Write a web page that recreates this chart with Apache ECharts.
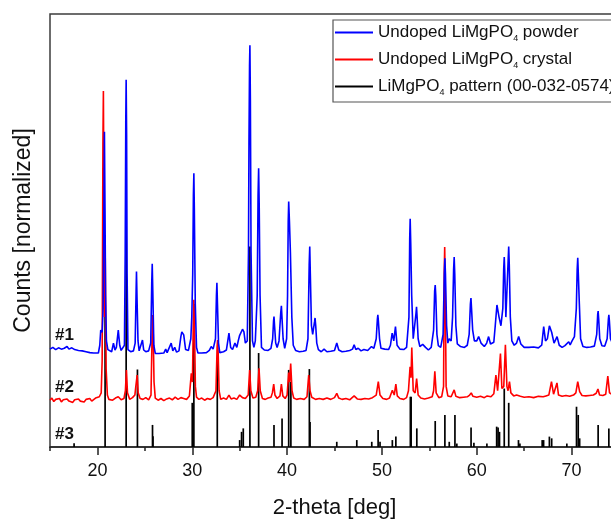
<!DOCTYPE html>
<html>
<head>
<meta charset="utf-8">
<script src="https://cdn.jsdelivr.net/npm/echarts@6/dist/echarts.min.js"></script>
<style>
  html, body { margin: 0; padding: 0; background: #fff; }
  #chart { width: 611px; height: 520px; }
</style>
</head>
<body>
<div id="chart"></div>
<script>
// Series names (PO4 is typeset with a subscript 4 in the legend)
const seriesNames = [
  'Undoped LiMgPO4 powder',
  'Undoped LiMgPO4 crystal',
  'LiMgPO4 pattern (00-032-0574)'
];

// Trace labels drawn at the left of each pattern
const traceLabels = ['#1', '#2', '#3'];

// #1 powder diffractogram: [2-theta, normalized counts incl. vertical offset]
const powder = [
  [15.0,22.6],[15.3,23.0],[15.6,22.5],[15.9,22.9],[16.2,22.6],[16.5,22.8],[16.8,23.2],[17.0,22.6],
  [17.3,22.9],[17.6,22.5],[18.0,22.3],[18.4,22.2],[18.8,22.0],[19.2,21.8],[19.6,21.7],[20.1,21.7],
  [20.25,23.5],[20.35,27.0],[20.5,26.5],[20.6,32],[20.7,60],[20.74,72.8],[20.8,55],[20.86,35],[20.95,24.5],[21.1,22.5],
  [21.3,22.8],[21.5,22.0],[21.69,24.0],[21.85,22.4],[22.0,23.0],[22.2,27.0],[22.35,23.5],[22.5,22.3],
  [22.7,22.5],[22.85,23.5],[22.93,45],[22.99,75],[23.03,84.8],[23.08,72],[23.13,40],[23.22,22.5],[23.5,22.0],[23.8,22.2],
  [23.98,24],[24.08,36],[24.12,40.5],[24.18,34],[24.28,24.5],[24.4,22.2],[24.6,22.5],[24.75,24.7],[24.88,22.4],[25.1,22.0],
  [25.4,22.2],[25.62,24],[25.73,38],[25.78,42.3],[25.84,36],[25.95,23.5],[26.1,21.6],[26.5,21.6],[27.0,21.7],[27.2,22.6],
  [27.35,21.8],[27.55,22.0],[27.78,24.0],[27.95,22.2],[28.15,23.0],[28.35,21.9],[28.6,22.2],[28.8,25.5],
  [28.9,26.6],[29.1,25.9],[29.3,22.5],[29.6,22.3],[29.85,25],[29.95,30],[30.05,40],[30.12,58],[30.17,63.2],[30.22,55],
  [30.32,33],[30.45,23],[30.6,21.7],[31.0,21.7],[31.5,21.8],[31.8,22.3],[32.0,23.2],[32.2,22.6],
  [32.45,25],[32.55,35],[32.6,37.9],[32.66,33],[32.77,24],[32.9,21.8],[33.3,22.0],[33.6,22.4],[33.87,26.3],[34.05,23],
  [34.25,22.5],[34.5,24],[34.7,23.0],[34.85,24.5],[35.0,25.8],[35.15,26.0],[35.3,27.2],[35.45,26.6],
  [35.6,24],[35.8,24.5],[35.93,45],[35.98,70],[36.04,88],[36.08,92.8],[36.13,80],[36.2,45],[36.35,24.5],[36.5,23.0],[36.65,24.5],
  [36.85,35],[36.94,58],[37.0,64.4],[37.06,56],[37.15,35],[37.3,23.0],[37.6,22.4],[38.0,22.3],[38.3,22.8],[38.48,25],
  [38.57,29],[38.62,30.1],[38.68,28],[38.8,24],[38.95,23],[39.15,24.5],[39.33,31],[39.4,32.6],[39.46,30],[39.58,25],[39.75,22.8],[39.95,25],
  [40.05,35],[40.12,52],[40.17,56.7],[40.25,52],[40.35,45],[40.5,30],[40.65,23.5],[40.9,22.3],[41.3,22.0],[41.7,22.1],
  [42.0,22.3],[42.2,25],[42.33,42],[42.39,46.3],[42.45,40],[42.57,28],[42.7,26],[42.9,29],[42.95,29.8],[43.02,28],[43.13,24],[43.3,22.5],
  [43.6,22.0],[43.9,22.6],[44.2,22.0],[44.6,22.1],[45.0,22.3],[45.24,24.0],[45.45,22.4],[45.8,22.0],
  [46.2,22.1],[46.6,22.3],[46.9,22.6],[47.07,23.6],[47.25,22.5],[47.5,22.8],[47.8,22.2],[48.1,22.5],
  [48.5,22.3],[48.9,23.2],[49.15,22.8],[49.4,25],[49.52,29.5],[49.57,30.5],[49.63,29],[49.75,25],[49.9,22.8],[50.3,22.6],
  [50.7,22.5],[50.9,23.5],[51.08,26.3],[51.25,24.5],[51.43,27.8],[51.6,23.5],[51.9,22.6],[52.3,22.5],
  [52.6,23.0],[52.85,30],[52.93,48],[52.98,52.7],[53.04,47],[53.14,35],[53.3,25],[53.5,25],[53.6,31],[53.65,32.4],[53.71,30],[53.82,25],
  [54.0,23.2],[54.3,23.7],[54.6,23.0],[54.9,22.4],[55.2,23.0],[55.45,27],[55.56,36],[55.62,37.4],[55.68,35],[55.8,26],
  [55.95,23.4],[56.2,23.0],[56.45,26],[56.58,40],[56.64,43.6],[56.7,40],[56.82,28],[56.95,24],[57.1,25.0],[57.3,24.5],
  [57.45,30],[57.56,41],[57.62,43.9],[57.68,40],[57.8,28],[57.95,23.8],[58.3,23.2],[58.7,23.0],[59.0,23.5],[59.2,26],
  [59.33,33],[59.39,34.4],[59.45,32],[59.57,27],[59.75,24.5],[60.0,24.5],[60.2,25.5],[60.45,24],[60.8,23.2],[61.05,24.0],
  [61.25,25.5],[61.45,23.8],[61.8,24.2],[61.95,28],[62.13,32.8],[62.35,30],[62.55,28],[62.75,32],
  [62.84,41],[62.9,43.9],[62.96,40],[63.07,30],[63.2,30],[63.31,43],[63.37,46.3],[63.43,42],[63.54,30],[63.7,24.5],[63.95,23.5],[64.2,24],
  [64.42,25.5],[64.65,23.8],[65.0,23.0],[65.5,23.0],[66.0,23.1],[66.5,22.9],[66.85,23.5],[67.06,27.8],
  [67.25,24.5],[67.45,25],[67.66,28.0],[67.9,26.5],[68.15,24],[68.47,25.5],[68.7,23.5],[69.0,23.0],
  [69.3,23.4],[69.7,24.3],[69.85,23.6],[70.05,24.5],[70.3,25.5],[70.5,32],[70.59,41],[70.65,43.7],[70.71,40],[70.82,33],
  [70.95,25],[71.2,23.2],[71.6,23.0],[72.0,23.1],[72.4,23.3],[72.65,26],[72.75,30.5],[72.8,31.4],[72.86,29.5],[72.97,25],
  [73.2,23.4],[73.5,23.3],[73.75,25],[73.88,29.5],[73.93,30.5],[73.99,29],[74.1,25],[74.4,23.5],[75.0,23.5]
];

// #2 crystal diffractogram
const crystal = [
  [15.0,10.8],[15.2,11.3],[15.4,10.5],[15.6,11.0],[15.8,10.6],[16.0,11.2],[16.2,10.4],[16.4,10.9],
  [16.6,10.5],[16.8,11.1],[17.0,10.6],[17.2,11.0],[17.4,10.3],[17.6,10.9],[17.8,10.5],[18.0,11.1],
  [18.2,10.6],[18.4,10.9],[18.6,10.4],[18.8,11.0],[19.0,10.7],[19.2,11.2],[19.4,10.6],[19.6,10.9],
  [19.8,11.3],[20.0,11.0],[20.2,11.6],[20.4,12.5],[20.5,20],[20.58,70],[20.63,82.2],[20.68,60],[20.74,30],[20.82,45],
  [20.92,18],[21.05,12],[21.2,11.0],[21.4,11.4],[21.6,10.8],[21.9,11.3],[22.2,11.6],[22.5,10.9],
  [22.8,11.2],[22.95,13],[23.06,17.8],[23.17,12.5],[23.4,11.0],[23.7,11.4],[23.95,12],[24.05,14],
  [24.19,16.6],[24.3,12.5],[24.5,11.2],[24.8,11.0],[25.1,11.4],[25.4,10.9],[25.65,12],[25.75,24],
  [25.82,30.5],[25.88,27],[25.97,15],[26.1,11.3],[26.4,10.8],[26.7,11.2],[27.0,10.7],[27.3,11.1],[27.6,11.3],
  [27.9,10.9],[28.2,11.5],[28.5,11.0],[28.8,11.4],[29.1,11.2],[29.4,11.0],[29.7,11.8],[29.9,17],
  [30.02,15],[30.12,30],[30.17,34],[30.23,29],[30.33,14],[30.45,11.5],[30.7,11.0],[31.0,11.3],[31.3,10.8],[31.6,11.2],
  [31.9,11.0],[32.2,11.4],[32.5,13],[32.62,23],[32.67,24.7],[32.73,22],[32.83,13],[33.0,11.0],[33.3,11.3],[33.6,11.0],
  [33.87,12.0],[34.1,11.1],[34.4,11.3],[34.7,11.0],[35.0,12.0],[35.3,11.4],[35.6,11.2],[35.9,12],
  [36.05,17.8],[36.18,13],[36.4,11.3],[36.7,11.5],[36.9,13],[37.04,18.2],[37.17,13],[37.4,11.2],
  [37.7,11.0],[38.0,11.3],[38.3,11.5],[38.45,12.5],[38.59,14.5],[38.72,12],[38.95,11.2],[39.25,11.8],
  [39.4,14.5],[39.55,11.8],[39.8,11.2],[40.0,12],[40.17,17.2],[40.28,15],[40.38,19.3],[40.52,13],
  [40.7,11.3],[41.0,11.0],[41.4,11.2],[41.8,11.0],[42.1,11.6],[42.28,16.6],[42.42,13],[42.6,11.5],
  [43.0,11.0],[43.4,11.2],[43.8,11.0],[44.2,11.3],[44.6,11.0],[45.0,11.4],[45.24,12.4],[45.45,11.3],
  [45.8,11.0],[46.2,11.2],[46.6,10.9],[47.07,11.8],[47.4,11.1],[47.8,11.0],[48.2,11.2],[48.6,11.1],
  [49.0,11.4],[49.4,12],[49.62,15.1],[49.8,12],[50.1,11.2],[50.5,11.0],[50.8,11.3],[51.1,13.1],
  [51.3,12],[51.47,14.5],[51.62,11.8],[51.9,11.2],[52.3,11.0],[52.6,11.4],[52.8,13],[52.97,18.5],
  [53.07,16],[53.15,23],[53.3,13],[53.5,12.5],[53.66,15.8],[53.82,12],[54.1,11.3],[54.5,11.1],
  [54.9,11.3],[55.3,11.6],[55.45,13],[55.58,17.5],[55.72,12.5],[56.0,11.4],[56.3,11.6],[56.5,14],
  [56.57,40],[56.62,46.2],[56.67,38],[56.77,14],[56.95,11.8],[57.3,11.6],[57.5,12],[57.62,13.2],[57.8,11.7],[58.2,11.4],
  [58.6,11.5],[59.0,11.6],[59.25,12],[59.42,12.5],[59.6,11.7],[60.0,11.5],[60.4,11.7],[60.8,11.4],
  [61.1,11.8],[61.25,12],[61.5,11.6],[61.8,12.3],[62.02,16.6],[62.2,13],[62.35,13],[62.5,21.6],
  [62.65,13.5],[62.85,14],[63.02,23.6],[63.18,14],[63.3,13],[63.45,15.1],[63.6,12.5],[63.9,11.8],
  [64.2,12],[64.38,12.4],[64.6,11.7],[65.0,11.5],[65.5,11.6],[66.0,11.4],[66.5,11.7],[67.0,11.6],
  [67.3,11.8],[67.6,12],[67.88,15.1],[68.1,12.2],[68.3,12.3],[68.46,14.8],[68.62,12],[69.0,11.7],
  [69.4,11.9],[69.8,11.7],[70.2,12.0],[70.45,12.5],[70.65,15.1],[70.85,12.8],[71.1,11.9],[71.5,11.8],
  [71.9,11.9],[72.3,12.0],[72.6,12.4],[72.78,13.4],[72.95,12.0],[73.3,11.9],[73.6,12.2],[73.82,16.4],
  [74.0,12.5],[74.4,12.0],[75.0,12.0]
];

// #3 reference pattern lines: [2-theta, relative intensity]
const pattern = [
  [17.54,0.85],[20.81,48],[23.03,52.4],[24.22,17.9],[25.81,5.1],[25.86,2.5],[30.0,10.2],[30.17,33],
  [32.64,20],[35.0,1.6],[35.2,3.5],[35.38,4.3],[36.08,46.3],[37.0,21.7],[38.62,5.1],[39.47,6.6],
  [40.17,17.8],[40.4,15],[42.35,18],[42.42,5.8],[45.24,1.2],[47.35,1.6],[48.93,1.2],[49.6,3.9],
  [49.8,1.2],[51.1,1.6],[51.47,2.4],[53.0,11.6],[53.08,11.6],[53.68,4.3],[55.62,6.0],[56.64,7.4],
  [57.1,1.2],[57.7,7.4],[57.9,0.8],[59.4,4.5],[59.7,1],[61.07,0.8],[62.1,4.7],[62.25,4.5],
  [62.4,3.5],[62.9,13.5],[63.37,10.2],[64.4,1.6],[64.55,0.8],[66.9,1.6],[67.05,1.6],[67.66,2.4],
  [67.9,2.0],[69.5,0.8],[70.52,9.3],[70.7,7.4],[70.85,2],[72.8,5.1],[73.93,4.3]
];

const FONT = '"Liberation Sans", Arial, sans-serif';
const chart = echarts.init(document.getElementById('chart'), null, { renderer: 'canvas' });

// wrap the "4" of PO4 as a subscript token
function richName(name) {
  return '{t|' + name.replace('PO4', 'PO}{s|4}{t|') + '}';
}

chart.setOption({
  animation: false,
  backgroundColor: '#ffffff',
  grid: {
    left: 50, top: 14, bottom: 73, right: -8,
    outerBoundsMode: 'none',
    containLabel: false,
    show: true, borderColor: '#3c3c3c', borderWidth: 1.5, backgroundColor: 'transparent'
  },
  legend: {
    orient: 'vertical',
    left: 333, top: 20,
    data: seriesNames,
    icon: 'rect',
    itemWidth: 38, itemHeight: 1.8,
    itemGap: 6,
    padding: [2, 6, 5, 2],
    backgroundColor: '#ffffff',
    borderColor: '#555555', borderWidth: 1.2, borderRadius: 0,
    formatter: richName,
    textStyle: {
      rich: {
        t: { fontFamily: FONT, fontSize: 17, color: '#111', lineHeight: 20 },
        s: { fontFamily: FONT, fontSize: 9, color: '#111', lineHeight: 9, padding: [12, 0, 0, 0] }
      }
    }
  },
  xAxis: [
    {
      type: 'value', min: 15, max: 75, minInterval: 10, maxInterval: 10, splitNumber: 6,
      position: 'bottom',
      name: '2-theta [deg]', nameLocation: 'middle', nameGap: 50,
      nameTextStyle: { fontFamily: FONT, fontSize: 22, color: '#111' },
      axisLine: { show: true, lineStyle: { color: '#222', width: 1.5 } },
      axisTick: { show: true, inside: false, length: 8, lineStyle: { color: '#222', width: 1.5 } },
      axisLabel: { showMinLabel: false, showMaxLabel: false, margin: 15,
                   fontFamily: FONT, fontSize: 18, color: '#111' },
      splitLine: { show: false }
    },
    {
      type: 'value', min: 15, max: 75, interval: 5,
      position: 'bottom',
      axisLine: { show: false },
      axisTick: { show: true, inside: false, length: 4, lineStyle: { color: '#222', width: 1.5 } },
      axisLabel: { show: false },
      splitLine: { show: false }
    }
  ],
  yAxis: {
    type: 'value', min: 0, max: 100,
    name: 'Counts [normalized]', nameLocation: 'middle', nameGap: 15,
    nameTextStyle: { fontFamily: FONT, fontSize: 23, color: '#111' },
    axisLine: { show: false }, axisTick: { show: false }, axisLabel: { show: false },
    splitLine: { show: false }
  },
  series: [
    {
      name: seriesNames[2],
      type: 'custom',
      z: 1,
      itemStyle: { color: '#000000' },
      data: pattern,
      renderItem: function (params, api) {
        const x = api.value(0), h = api.value(1);
        const p0 = api.coord([x, 0]);
        const p1 = api.coord([x, h]);
        return {
          type: 'line',
          shape: { x1: p0[0], y1: p0[1], x2: p1[0], y2: p1[1] },
          style: { stroke: '#000000', lineWidth: 1.7 }
        };
      }
    },
    {
      name: seriesNames[1],
      type: 'line', z: 2,
      data: crystal,
      showSymbol: false, symbol: 'none',
      itemStyle: { color: '#ff0000' },
      lineStyle: { color: '#ff0000', width: 1.6 }
    },
    {
      name: seriesNames[0],
      type: 'line', z: 3,
      data: powder,
      showSymbol: false, symbol: 'none',
      itemStyle: { color: '#0000ff' },
      lineStyle: { color: '#0000ff', width: 1.6 }
    }
  ]
});

// trace labels placed just above each trace's baseline at the left edge
const labelBaseY = [25.7, 13.6, 2.7];
chart.setOption({
  graphic: traceLabels.map(function (txt, i) {
    const p = chart.convertToPixel({ xAxisIndex: 0, yAxisIndex: 0 }, [15, labelBaseY[i]]);
    return {
      type: 'text',
      left: p[0] + 5,
      top: p[1] - 9,
      style: { text: txt, fontFamily: FONT, fontSize: 17, fontWeight: 'bold', fill: '#111' }
    };
  })
});
</script>
</body>
</html>
